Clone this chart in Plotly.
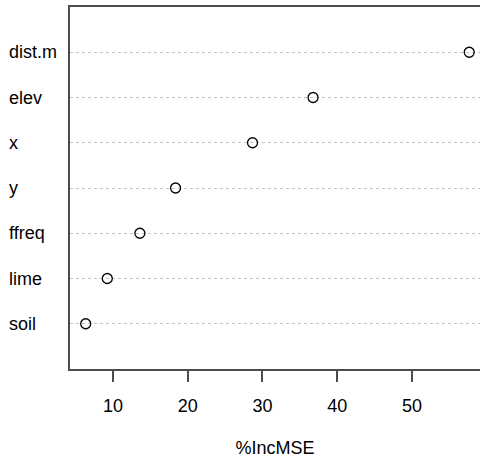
import plotly.graph_objects as go

variables = ["soil", "lime", "ffreq", "y", "x", "elev", "dist.m"]
inc_mse = [6.35, 9.24, 13.6, 18.37, 28.67, 36.77, 57.66]
x_ticks = [10, 20, 30, 40, 50]

positions = list(range(1, len(variables) + 1))
font = dict(family="Liberation Sans, Arial, sans-serif", size=18, color="black")
axis_col = "#4d4d4d"

fig = go.Figure()
fig.add_trace(go.Scatter(
    x=inc_mse, y=positions, mode="markers",
    marker=dict(symbol="circle-open", size=10, color="black", line=dict(width=1.3, color="black")),
    showlegend=False, hoverinfo="skip",
))

for v, p in zip(variables, positions):
    fig.add_annotation(text=v, x=0, xref="paper", y=p, yref="y", xanchor="left",
                       xshift=-63, showarrow=False, font=font)

fig.update_layout(
    width=480, height=458,
    margin=dict(l=70, r=0, t=7, b=89),
    paper_bgcolor="white", plot_bgcolor="white",
    font=font,
    xaxis=dict(
        range=[4.25, 59.1], tickvals=x_ticks, ticktext=[str(t) for t in x_ticks],
        showgrid=False, zeroline=False,
        showline=True, linecolor=axis_col, linewidth=1.5, mirror=True,
        ticks="outside", ticklen=11, tickwidth=1.5, tickcolor=axis_col,
        ticklabelstandoff=9,
        title=dict(text="%IncMSE", standoff=28, font=font),
    ),
    yaxis=dict(
        range=[0, 8], tickvals=positions, showticklabels=False, ticks="",
        showgrid=True, gridcolor="#c4c4c4", gridwidth=1, griddash="3px,3px",
        zeroline=False, showline=True, linecolor=axis_col, linewidth=1.5, mirror=False,
    ),
)

fig.write_html("out.html")
